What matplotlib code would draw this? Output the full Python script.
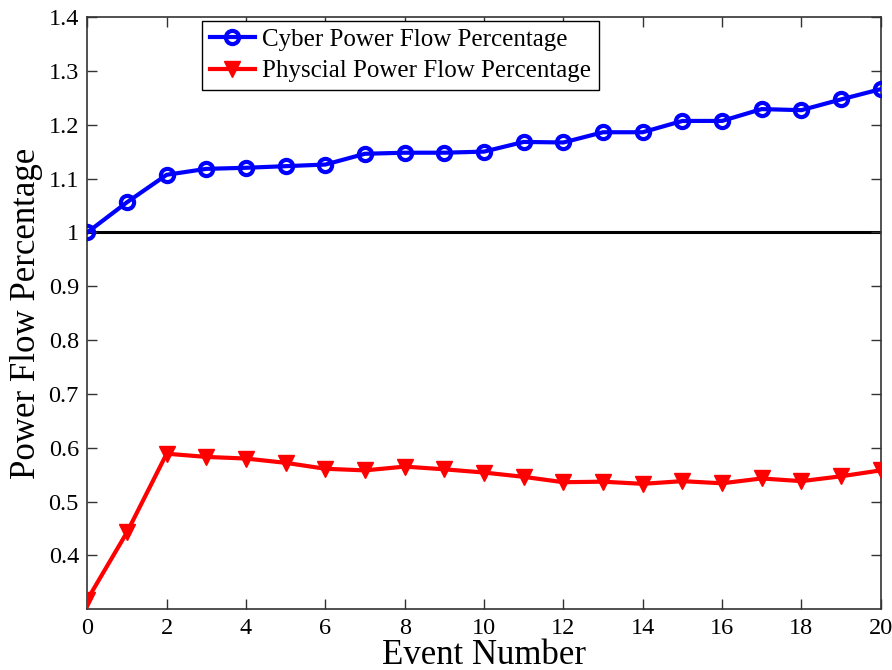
import matplotlib
matplotlib.use("Agg")
import matplotlib.pyplot as plt

events = list(range(21))
cyber = [1.000, 1.056, 1.107, 1.118, 1.120, 1.123, 1.126, 1.146, 1.148, 1.148, 1.150,
         1.168, 1.167, 1.186, 1.186, 1.207, 1.207, 1.229, 1.227, 1.247, 1.266]
physical = [0.318, 0.443, 0.589, 0.583, 0.580, 0.572, 0.561, 0.558, 0.565, 0.560, 0.554,
            0.546, 0.536, 0.537, 0.533, 0.538, 0.534, 0.543, 0.538, 0.547, 0.558]
xticks = list(range(0, 21, 2))
yticks = [0.4, 0.5, 0.6, 0.7, 0.8, 0.9, 1.0, 1.1, 1.2, 1.3, 1.4]
yticklabels = ["0.4", "0.5", "0.6", "0.7", "0.8", "0.9", "1", "1.1", "1.2", "1.3", "1.4"]

plt.rcParams['font.family'] = ['Liberation Serif', 'DejaVu Serif']
plt.rcParams['mathtext.fontset'] = 'stix'

fig = plt.figure(figsize=(8.92, 6.70), dpi=100)
ax = fig.add_axes([0.0979, 0.0906, 0.8894, 0.884])

ax.axhline(1.0, color='black', lw=2.2, zorder=1)
ax.plot(events, cyber, color='#0000ff', lw=3, marker='o', ms=9.5, mfc='none',
        mec='#0000ff', mew=3, label='Cyber Power Flow Percentage', zorder=3)
ax.plot(events, physical, color='#ff0000', lw=3, marker='v', ms=11,
        mfc='#ff0000', mec='#ff0000', label='Physcial Power Flow Percentage', zorder=3)

ax.set_xlim(0, 20)
ax.set_ylim(0.3, 1.4)
ax.set_xticks(xticks)
ax.set_yticks(yticks)
ax.set_yticklabels(yticklabels)
ax.tick_params(direction='in', length=7, width=1, labelsize=17.5, top=True, right=True,
               color='#333333', pad=6)
for s in ax.spines.values():
    s.set_color('#333333')
    s.set_linewidth(1.2)

ax.set_xlabel('Event Number', fontsize=25, labelpad=0)
ax.set_ylabel('Power Flow Percentage', fontsize=25, labelpad=4)

leg = ax.legend(loc='upper left', bbox_to_anchor=(0.145, 0.993), fontsize=18,
                frameon=True, fancybox=False, edgecolor='black', framealpha=1,
                handlelength=1.8, handletextpad=0.3, borderpad=0.3, labelspacing=0.35,
                borderaxespad=0)
leg.get_frame().set_linewidth(1.0)

fig.savefig('out.png', dpi=100)
